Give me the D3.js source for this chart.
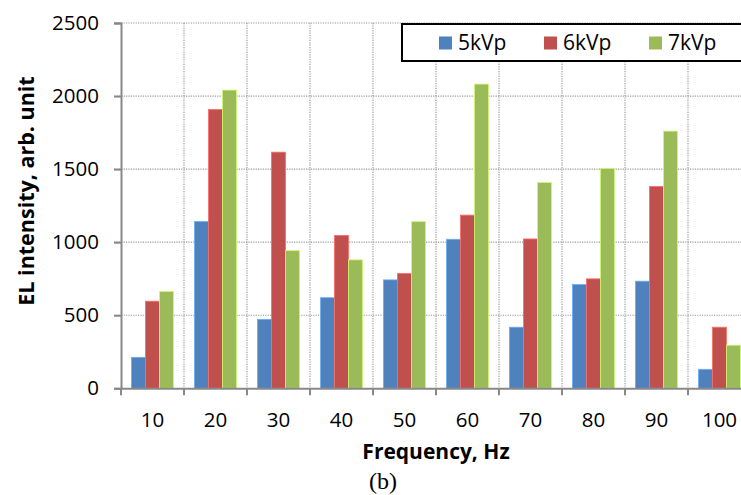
<!DOCTYPE html>
<html>
<head>
<meta charset="utf-8">
<script src="https://cdn.jsdelivr.net/npm/d3@7"></script>
<style>
  body { margin: 0; background: #fff; }
  text { font-family: "Open Sans", "Noto Sans", sans-serif; }
</style>
</head>
<body>
<svg id="chart"></svg>
<script>
// frequencies along the x axis
const categories = ["10", "20", "30", "40", "50", "60", "70", "80", "90", "100"];
const seriesNames = ["5kVp", "6kVp", "7kVp"];
// EL intensity for each voltage
const kv5 = [212, 1141, 472, 620, 742, 1020, 418, 710, 733, 130];
const kv6 = [596, 1908, 1616, 1046, 785, 1185, 1022, 749, 1381, 418];
const kv7 = [663, 2041, 942, 879, 1141, 2082, 1408, 1504, 1760, 295];
const yTicks = [0, 500, 1000, 1500, 2000, 2500];
const colors = ["#4F81BD", "#C0504D", "#9BBB59"];

const width = 741, height = 495;
const plotLeft = 121, plotRight = 751, plotTop = 23, plotBottom = 388.3;

const svg = d3.select("#chart").attr("width", width).attr("height", height);

const x = d3.scaleBand().domain(categories).range([plotLeft, plotRight]).padding(0);
const xSub = d3.scaleBand().domain(seriesNames).range([0, x.bandwidth()])
    .paddingInner(0).paddingOuter(0.75);
const y = d3.scaleLinear().domain([0, 2500]).range([plotBottom, plotTop]);

// build rows for the bars
const rows = categories.map((c, i) => ({
    cat: c,
    vals: [kv5[i], kv6[i], kv7[i]].map((v, j) => ({ name: seriesNames[j], value: v, k: j }))
}));

// gridlines (dotted)
const grid = svg.append("g");
grid.selectAll(".hgrid")
    .data(yTicks.filter(d => d > 0))
    .enter().append("line")
    .attr("x1", plotLeft - 7).attr("x2", width)
    .attr("y1", d => y(d)).attr("y2", d => y(d))
    .attr("stroke", "#999").attr("stroke-width", 1.2)
    .attr("stroke-dasharray", "1.2,1.2");

grid.selectAll(".vgrid")
    .data(categories.slice(1))
    .enter().append("line")
    .attr("x1", d => x(d)).attr("x2", d => x(d))
    .attr("y1", plotTop).attr("y2", plotBottom)
    .attr("stroke", "#999").attr("stroke-width", 1.2)
    .attr("stroke-dasharray", "1.2,1.2");

// bars
const groups = svg.selectAll(".grp")
    .data(rows)
    .enter().append("g")
    .attr("transform", d => `translate(${x(d.cat)},0)`);

groups.selectAll("rect")
    .data(d => d.vals)
    .enter().append("rect")
    .attr("x", d => xSub(d.name))
    .attr("width", xSub.bandwidth())
    .attr("y", d => y(d.value))
    .attr("height", d => y(0) - y(d.value))
    .attr("fill", d => colors[d.k])
    .attr("stroke", d => d3.color(colors[d.k]).brighter(0.8))
    .attr("stroke-width", 0.8);

// y axis
const yAxis = svg.append("g")
    .attr("transform", `translate(${plotLeft},0)`)
    .call(d3.axisLeft(y).tickValues(yTicks).tickFormat(d3.format("d"))
        .tickSize(7).tickPadding(15));
yAxis.select(".domain").attr("stroke", "#888").attr("stroke-width", 2);
yAxis.selectAll(".tick line").attr("stroke", "#888").attr("stroke-width", 2);
yAxis.selectAll(".tick text")
    .style("font-size", "20.5px").attr("fill", "#000");

// x axis with ticks at the band edges
const xAxis = svg.append("g")
    .attr("transform", `translate(0,${plotBottom})`)
    .call(d3.axisBottom(x).tickSize(0).tickPadding(24));
xAxis.select(".domain").attr("stroke", "#888").attr("stroke-width", 2);
xAxis.selectAll(".tick text")
    .style("font-size", "20.5px").attr("fill", "#000");
xAxis.selectAll(".edge")
    .data(categories)
    .enter().append("line")
    .attr("x1", d => x(d)).attr("x2", d => x(d))
    .attr("y1", 0).attr("y2", 7)
    .attr("stroke", "#888").attr("stroke-width", 2);

// axis titles
svg.append("text")
    .attr("x", 436).attr("y", 459)
    .attr("text-anchor", "middle")
    .style("font-size", "21px").style("font-weight", "bold")
    .text("Frequency, Hz");

svg.append("text")
    .attr("transform", "translate(34,191) rotate(-90)")
    .attr("text-anchor", "middle")
    .style("font-size", "21.5px").style("font-weight", "bold")
    .text("EL intensity, arb. unit");

svg.append("text")
    .attr("x", 383).attr("y", 489)
    .attr("text-anchor", "middle")
    .style("font-family", "'Liberation Serif', serif")
    .style("font-size", "24px")
    .text("(b)");

// legend
const legend = svg.append("g");
legend.append("rect")
    .attr("x", 402).attr("y", 24)
    .attr("width", 360).attr("height", 37)
    .attr("fill", "#fff").attr("stroke", "#000").attr("stroke-width", 2);

const legendX = [439, 544, 649];
const items = legend.selectAll(".item")
    .data(seriesNames)
    .enter().append("g")
    .attr("transform", (d, i) => `translate(${legendX[i]},36.5)`);
items.append("rect")
    .attr("width", 13).attr("height", 13)
    .attr("fill", (d, i) => colors[i]);
items.append("text")
    .attr("x", 19).attr("y", 13.5)
    .style("font-size", "21px")
    .text(d => d);
</script>
</body>
</html>
